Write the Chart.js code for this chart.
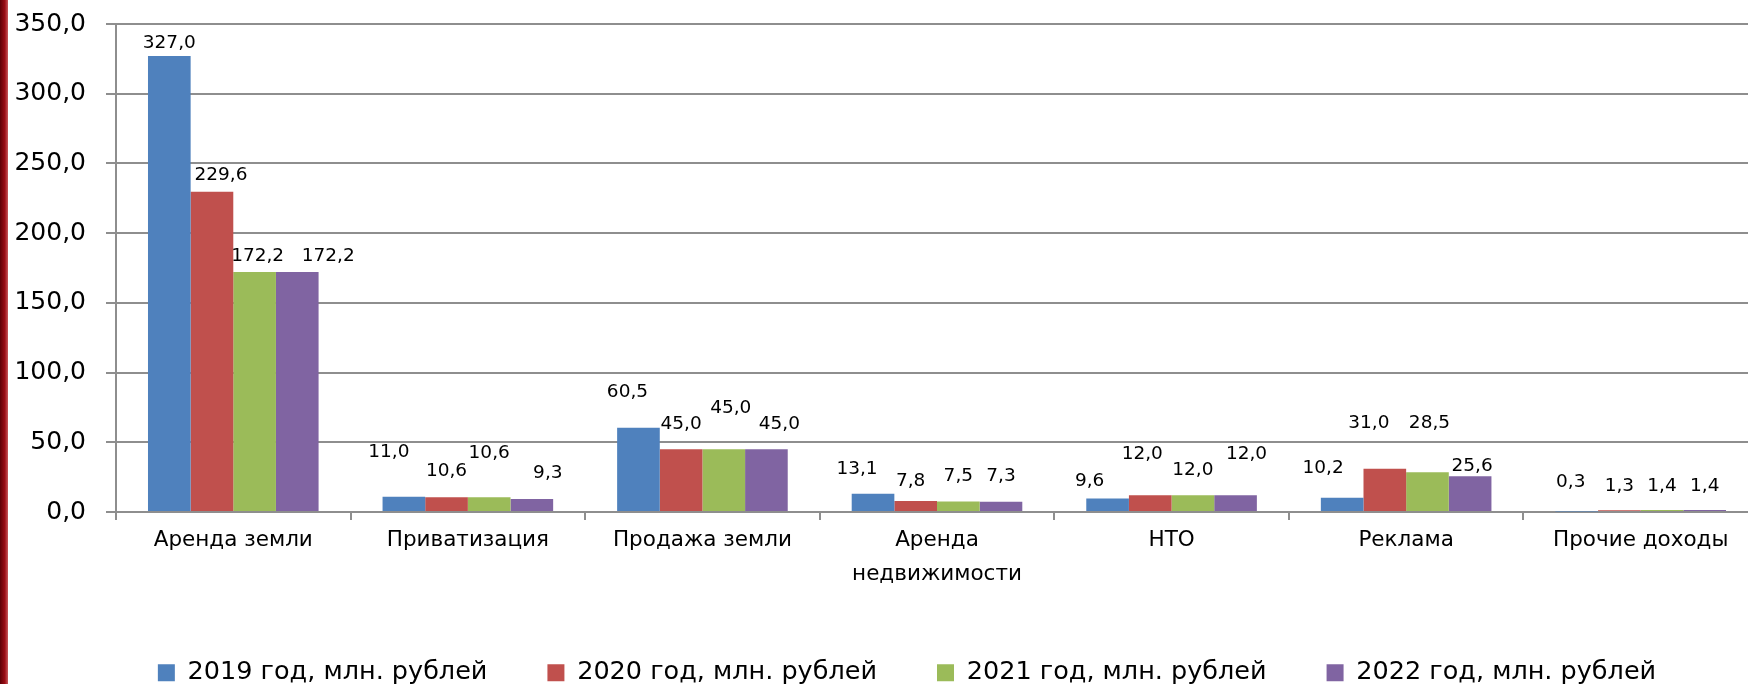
<!DOCTYPE html>
<html>
<head>
  <meta charset="utf-8">
  <title>Неналоговые доходы</title>
  <script src="https://cdn.jsdelivr.net/npm/chart.js"></script>
  <style>
    html, body { margin: 0; padding: 0; background: #fff; overflow: hidden; }
    #wrap { position: relative; width: 1758px; height: 684px; }
    #edge { position: absolute; left: 0; top: 0; width: 8px; height: 684px; z-index: 2;
            background: linear-gradient(to right, #5e0006, #9a0c14 60%, #c8585c); }
  </style>
</head>
<body>
  <div id="wrap">
    <div id="edge"></div>
    <canvas id="chart"></canvas>
  </div>

  <script>
    var categories = ['Аренда земли', 'Приватизация', 'Продажа земли', ['Аренда', 'недвижимости'], 'НТО', 'Реклама', 'Прочие доходы'];
    var seriesNames = ['2019 год, млн. рублей', '2020 год, млн. рублей', '2021 год, млн. рублей', '2022 год, млн. рублей'];
    var v2019 = [327.0, 11.0, 60.5, 13.1, 9.6, 10.2, 0.3];
    var v2020 = [229.6, 10.6, 45.0, 7.8, 12.0, 31.0, 1.3];
    var v2021 = [172.2, 10.6, 45.0, 7.5, 12.0, 28.5, 1.4];
    var v2022 = [172.2, 9.3, 45.0, 7.3, 12.0, 25.6, 1.4];
    var yMin = 0, yMax = 350, yStep = 50;

    var colors = ['#4F81BD', '#C0504D', '#9BBB59', '#8064A2'];

    // value labels were placed by hand in the original, small nudges in px
    var labelNudge = [
      [[0, 0], [-15, -31], [-11, -22], [-16, -12], [-18, -4], [-19, -17], [-6, -16]],
      [[9, -4], [0, -13], [0, -12], [-5, -7], [-8, -28], [-16, -33], [0, -11]],
      [[3, -3], [0, -31], [7, -28], [0, -12], [0, -12], [2, -36], [0, -11]],
      [[31, -3], [16, -13], [13, -12], [0, -13], [11, -28], [2, 3], [0, -11]]
    ];

    function fmt(v) { return v.toFixed(1).replace('.', ','); }

    Chart.defaults.font.family = '"DejaVu Sans", sans-serif';
    Chart.defaults.color = '#000';

    var valueLabels = {
      id: 'valueLabels',
      afterDatasetsDraw: function(chart) {
        var ctx = chart.ctx;
        ctx.save();
        ctx.font = '18.5px "DejaVu Sans"';
        ctx.fillStyle = '#000';
        ctx.textAlign = 'center';
        ctx.textBaseline = 'middle';
        chart.data.datasets.forEach(function(ds, i) {
          chart.getDatasetMeta(i).data.forEach(function(bar, j) {
            var n = labelNudge[i][j];
            ctx.fillText(fmt(ds.data[j]), bar.x + n[0], bar.y - 13 + n[1]);
          });
        });
        ctx.restore();
      }
    };

    // keep the legend short so the plot keeps its height, and move it a bit
    var legendFit = {
      id: 'legendFit',
      afterInit: function(chart) {
        var lg = chart.legend;
        var fit = lg.fit;
        lg.fit = function() { fit.call(this); this.height = 87; };
      },
      afterLayout: function(chart) {
        var lg = chart.legend;
        lg.left += 28; lg.right += 28;
        lg.top += 3; lg.bottom += 3;
      }
    };

    var allValues = [v2019, v2020, v2021, v2022];
    var grid = '#8e8e8e';

    new Chart(document.getElementById('chart'), {
      type: 'bar',
      data: {
        labels: categories,
        datasets: seriesNames.map(function(name, i) {
          return { label: name, data: allValues[i], backgroundColor: colors[i], borderWidth: 0 };
        })
      },
      options: {
        responsive: true,
        maintainAspectRatio: false,
        animation: false,
        categoryPercentage: 4 / 5.5,
        barPercentage: 1,
        layout: { padding: { left: 0, top: 24, right: 0, bottom: 0 } },
        plugins: {
          legend: {
            position: 'bottom',
            labels: { boxWidth: 17, boxHeight: 17, padding: 60, font: { size: 25.5 }, color: '#000' }
          },
          tooltip: { enabled: false }
        },
        scales: {
          x: {
            offset: true,
            grid: { display: true, drawOnChartArea: false, drawTicks: true, tickLength: 8, color: grid, lineWidth: 2, offset: true },
            border: { display: true, color: grid, width: 2 },
            ticks: { font: { size: 21.5, lineHeight: 1.55 }, padding: 4, maxRotation: 0, autoSkip: false },
            afterFit: function(s) { s.height = 85; }
          },
          y: {
            min: yMin,
            max: yMax,
            grid: { color: grid, lineWidth: 2, tickLength: 10 },
            border: { display: true, color: grid, width: 2 },
            ticks: { stepSize: yStep, font: { size: 25 }, padding: 20, callback: function(v) { return fmt(v); } },
            afterFit: function(s) { s.width = 116; s.paddingTop = 0; s.paddingBottom = 0; }
          }
        }
      },
      plugins: [valueLabels, legendFit]
    });
  </script>
</body>
</html>
